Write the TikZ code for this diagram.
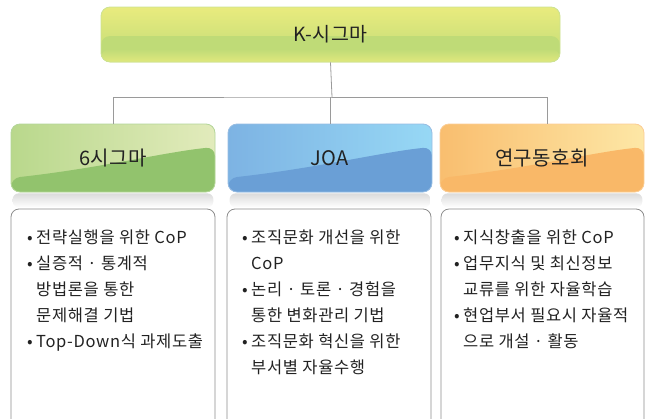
\documentclass[tikz,border=0pt]{standalone}
\usepackage{fontspec}
\setmainfont{Noto Sans CJK KR}
\usetikzlibrary{positioning}

\definecolor{lineGray}{HTML}{9A9A9A}
\definecolor{boxGray}{HTML}{8C8C8C}
\definecolor{txtDark}{HTML}{222222}
% header colours
\definecolor{topUp}{HTML}{E9EB7E}
\definecolor{topLow}{HTML}{BFDB77}
\definecolor{grnL}{HTML}{B9D88C}
\definecolor{grnR}{HTML}{E2EBBC}
\definecolor{grnLow}{HTML}{92C36D}
\definecolor{bluL}{HTML}{7DB3E3}
\definecolor{bluR}{HTML}{97D8F5}
\definecolor{bluLow}{HTML}{6A9FD6}
\definecolor{orgL}{HTML}{F9BE6F}
\definecolor{orgR}{HTML}{FDE7A6}
\definecolor{orgLow}{HTML}{F9B868}

\newcommand{\bul}{\makebox[9pt][l]{•}}
\newcommand{\ind}{\makebox[9pt][l]{}}

\tikzset{
  hdr/.style n args={3}{rounded corners=9pt, minimum width=204pt, minimum height=68pt,
    inner sep=0pt, left color=#1, right color=#2, draw=#3!70!white, line width=0.8pt,
    font=\fontsize{20}{20}\selectfont\addfontfeature{LetterSpace=2}, text=txtDark,
    path picture={
      \fill[#3] ([yshift=-54pt]path picture bounding box.north west)
        .. controls ([xshift=90pt,yshift=-44pt]path picture bounding box.north west)
        and ([xshift=-50pt,yshift=-28pt]path picture bounding box.north east)
        .. ([yshift=-23pt]path picture bounding box.north east)
        -- (path picture bounding box.south east) -- (path picture bounding box.south west) -- cycle;
    }},
  txtbox/.style={draw=boxGray, line width=0.8pt, rounded corners=8pt},
  txt/.style={anchor=north west, inner sep=0pt, align=left, text=txtDark,
    font=\fontsize{16.5}{26}\selectfont\addfontfeature{LetterSpace=4}},
  link/.style={draw=lineGray, line width=0.8pt}
}

\begin{document}
\begin{tikzpicture}[x=1pt,y=-1pt]
  \useasboundingbox (0,0) rectangle (647,418);
  \clip (0,0) rectangle (647,418);

  % top node
  \node[rounded corners=9pt, minimum width=459pt, minimum height=55pt, inner sep=0pt,
    top color=topUp, bottom color=topLow, draw=topLow!80!white, line width=0.8pt,
    font=\fontsize{19.5}{19.5}\selectfont\addfontfeature{LetterSpace=2}, text=txtDark,
    path picture={
      \fill[topLow] ([yshift=-29pt]path picture bounding box.north west) rectangle (path picture bounding box.south east);
      \shade[top color=topLow, bottom color=topUp!80!topLow] ([yshift=-42pt]path picture bounding box.north west) rectangle (path picture bounding box.south east);
    }] (ksig) at (330.5,34.5) {K-시그마};

  % header nodes
  \node[hdr={grnL}{grnR}{grnLow}] (sixsig) at (113,158) {6시그마};
  \node[hdr={bluL}{bluR}{bluLow}] (joa) at (330,158) {JOA};
  \node[hdr={orgL}{orgR}{orgLow}] (club) at (542,158) {연구동호회};

  % reflections
  \foreach \n in {sixsig,joa,club}
    \shade[top color=black!14, bottom color=white, rounded corners=6pt]
      ([xshift=2pt,yshift=-1pt]\n.south west) rectangle ([xshift=-2pt,yshift=-15pt]\n.south east);

  % connectors
  \coordinate (bus) at (332,97);
  \draw[link] (ksig.south) -- (bus);
  \draw[link] (sixsig.north) |- (bus) -| (joa.north);
  \draw[link] (bus) -| ([xshift=5pt]club.north);

  % content boxes
  \draw[txtbox] (11,209) rectangle (215,440);
  \draw[txtbox] (227,209) rectangle (431,440);
  \draw[txtbox] (441,209) rectangle (644,440);

  \node[txt] (sixsigtxt) at (27,230) {\bul 전략실행을 위한 CoP\\ \bul 실증적 · 통계적\\ \ind 방법론을 통한\\ \ind 문제해결 기법\\ \bul Top-Down식 과제도출};
  \node[txt] (joatxt) at (242,230) {\bul 조직문화 개선을 위한\\ \ind CoP\\ \bul 논리 · 토론 · 경험을\\ \ind 통한 변화관리 기법\\ \bul 조직문화 혁신을 위한\\ \ind 부서별 자율수행};
  \node[txt] (clubtxt) at (454,230) {\bul 지식창출을 위한 CoP\\ \bul 업무지식 및 최신정보\\ \ind 교류를 위한 자율학습\\ \bul 현업부서 필요시 자율적\\ \ind 으로 개설 · 활동};
\end{tikzpicture}
\end{document}
